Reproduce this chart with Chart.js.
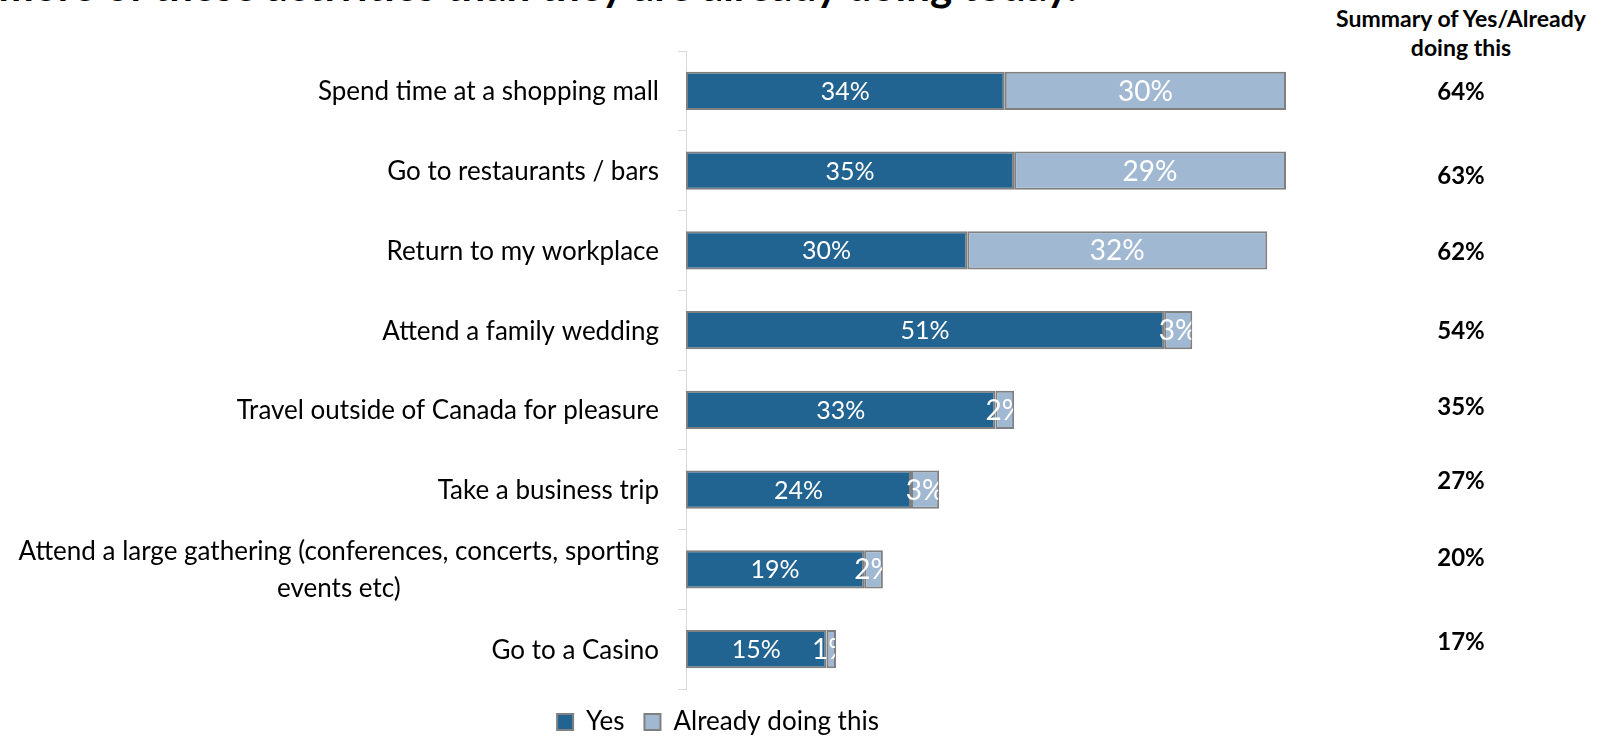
<!DOCTYPE html>
<html>
<head>
<meta charset="utf-8">
<script src="https://cdn.jsdelivr.net/npm/chart.js@4.4.1/dist/chart.umd.min.js"></script>
<style>
  html, body { margin: 0; padding: 0; background: #ffffff; }
  #wrap { position: relative; width: 1611px; height: 736px; overflow: hidden; }
  #title { position: absolute; right: 534px; top: -35px; font: bold 42px Lato, sans-serif; line-height: 40px; white-space: nowrap; color: #000; }
  #head { position: absolute; left: 1311px; width: 300px; top: 4px; text-align: center; font: bold 23px Lato, sans-serif; line-height: 29px; color: #000; }
  canvas { position: absolute; left: 0; top: 0; }
</style>
</head>
<body>
<div id="wrap">
  <div id="title">Canadians say they will do more of these activities than they are already doing today.</div>
  <div id="head">Summary of Yes/Already<br>doing this</div>
  <canvas id="chart" width="1611" height="736"></canvas>
</div>
<script>
// Activities (top to bottom)
const categories = [
  'Spend time at a shopping mall',
  'Go to restaurants / bars',
  'Return to my workplace',
  'Attend a family wedding',
  'Travel outside of Canada for pleasure',
  'Take a business trip',
  ['Attend a large gathering (conferences, concerts, sporting', 'events etc)'],
  'Go to a Casino'
];
const seriesNames = ['Yes', 'Already doing this'];
const yesValues = [34, 35, 30, 51, 33, 24, 19, 15];
const alreadyValues = [30, 29, 32, 3, 2, 3, 2, 1];
const summaryValues = [64, 63, 62, 54, 35, 27, 20, 17];

const FONT = 'Lato, "Open Sans", sans-serif';
const YES_COLOR = '#216391';
const ALREADY_COLOR = '#A0B8D2';
const EDGE = '#808080';

// small vertical nudges for the summary column text boxes
const summaryShift = [1, 6, 2, 1, -3, -8, -11, -7];

const overlay = {
  id: 'overlay',
  afterDatasetsDraw(chart) {
    const ctx = chart.ctx;
    const area = chart.chartArea;

    // value labels inside the bar segments, cut off at the bar's right end
    chart.data.datasets.forEach((ds, di) => {
      const meta = chart.getDatasetMeta(di);
      meta.data.forEach((bar, i) => {
        const p = bar.getProps(['x', 'base', 'y', 'height'], true);
        const cx = (p.x + p.base) / 2;
        ctx.save();
        ctx.beginPath();
        ctx.rect(area.left, p.y - p.height / 2, p.x - area.left - 1, p.height);
        ctx.clip();
        ctx.fillStyle = '#ffffff';
        ctx.font = (di === 0 ? '25px ' : '28px ') + FONT;
        ctx.textAlign = 'center';
        ctx.textBaseline = 'middle';
        ctx.fillText(ds.data[i] + '%', cx, p.y + 1);
        ctx.restore();
      });
    });
  },
  afterDraw(chart) {
    const ctx = chart.ctx;
    const y = chart.scales.y;
    ctx.save();
    // category labels, right edge just left of the axis ticks
    ctx.fillStyle = '#000000';
    ctx.font = '26px ' + FONT;
    ctx.textAlign = 'center';
    ctx.textBaseline = 'middle';
    const lineH = 37;
    categories.forEach((lab, i) => {
      const lines = Array.isArray(lab) ? lab : [lab];
      const w = Math.max(...lines.map(l => ctx.measureText(l).width));
      const cx = y.right - 27 - w / 2;
      const cy = y.getPixelForValue(i);
      lines.forEach((l, k) => {
        ctx.fillText(l, cx, cy + 1 + (k - (lines.length - 1) / 2) * lineH);
      });
    });
    // summary column
    ctx.font = 'bold 24px ' + FONT;
    summaryValues.forEach((v, i) => {
      ctx.fillText(v + '%', 1461, y.getPixelForValue(i) + summaryShift[i]);
    });
    ctx.restore();
  }
};

new Chart(document.getElementById('chart'), {
  type: 'bar',
  data: {
    labels: categories,
    datasets: [
      { label: seriesNames[0], data: yesValues, backgroundColor: YES_COLOR, borderColor: EDGE, borderWidth: 2, borderSkipped: false },
      { label: seriesNames[1], data: alreadyValues, backgroundColor: ALREADY_COLOR, borderColor: EDGE, borderWidth: 2, borderSkipped: false }
    ]
  },
  options: {
    indexAxis: 'y',
    responsive: false,
    animation: false,
    categoryPercentage: 1,
    barPercentage: 0.48,
    layout: { padding: { left: 0, right: 175, top: 51, bottom: -9 } },
    scales: {
      x: { stacked: true, display: false, min: 0, max: 80 },
      y: {
        stacked: true,
        grid: { offset: true, drawOnChartArea: false, tickLength: 8, color: '#D9D9D9', lineWidth: 1 },
        border: { color: '#D9D9D9', width: 1 },
        ticks: { display: false },
        afterFit(scale) { scale.width = 686; }
      }
    },
    plugins: {
      tooltip: { enabled: false },
      legend: {
        position: 'bottom',
        labels: {
          color: '#000000',
          font: { family: FONT, size: 26 },
          boxWidth: 16,
          boxHeight: 16,
          padding: 20
        }
      }
    }
  },
  plugins: [overlay]
});
</script>
</body>
</html>
